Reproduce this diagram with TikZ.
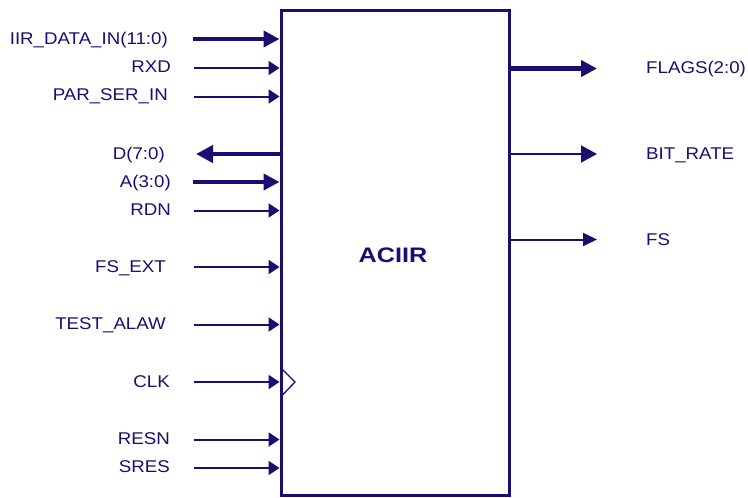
\documentclass[tikz,border=0pt]{standalone}
\usepackage{fontspec}
\setmainfont{Liberation Sans}[FakeStretch=1.1]
\newfontfamily\titlefont{Liberation Sans}[FakeStretch=1.2]
\usetikzlibrary{arrows.meta}
\definecolor{navy}{RGB}{26,14,112}
\begin{document}
\begin{tikzpicture}[x=1pt,y=-1pt,
  every node/.style={text=navy,font=\fontsize{17}{20}\selectfont,inner sep=0pt,text height=12.2pt,text depth=0pt},
  lbl/.style={anchor=east},
  rlbl/.style={anchor=west},
  thinsig/.style={draw=navy,line width=2pt,-{Triangle[length=11pt,width=14pt]}},
  thicksig/.style={draw=navy,line width=4.5pt,-{Triangle[length=16pt,width=16pt]}},
  thinout/.style={draw=navy,line width=2pt,-{Triangle[length=16pt,width=17pt]}},
  fsout/.style={draw=navy,line width=2pt,-{Triangle[length=14pt,width=13pt]}},
]
\useasboundingbox (0,0) rectangle (748,498);
\node[draw=navy,line width=3pt,minimum width=228pt,minimum height=485pt,text height=,text depth=] (box) at (395,252.5) {};
\node[font=\titlefont\fontsize{21}{24}\bfseries\selectfont,text height=15pt] (title) at (393,255) {ACIIR};
% left inputs
\coordinate (iirS) at (193,39);
\coordinate (rxdS) at (194,68);
\coordinate (parS) at (194,96.5);
\coordinate (dE) at (196,154);
\coordinate (aS) at (193,182);
\coordinate (rdnS) at (194,210.5);
\coordinate (fseS) at (194,267);
\coordinate (testS) at (194,324.5);
\coordinate (clkS) at (194,382);
\coordinate (resnS) at (194,439.5);
\coordinate (sresS) at (194,468);
\draw[thicksig] (iirS) -- (box.west |- iirS);
\draw[thinsig] (rxdS) -- (box.west |- rxdS);
\draw[thinsig] (parS) -- (box.west |- parS);
\draw[thicksig,-{Triangle[length=17pt,width=17pt]}] (box.west |- dE) -- (dE);
\draw[thicksig] (aS) -- (box.west |- aS);
\draw[thinsig] (rdnS) -- (box.west |- rdnS);
\draw[thinsig] (fseS) -- (box.west |- fseS);
\draw[thinsig] (testS) -- (box.west |- testS);
\draw[thinsig] (clkS) -- (box.west |- clkS);
\draw[thinsig] (resnS) -- (box.west |- resnS);
\draw[thinsig] (sresS) -- (box.west |- sresS);
% clock marker
\coordinate (ckA) at (281,368);
\coordinate (ckB) at (295,382);
\coordinate (ckC) at (281,396.5);
\draw[navy,line width=1.3pt] (ckA) -- (ckB) -- (ckC);
% left labels
\node[lbl] (liir) at (168,38) {IIR\_DATA\_IN(11:0)};
\node[lbl] (lrxd) at (171,66.5) {RXD};
\node[lbl] (lpar) at (168,94.5) {PAR\_SER\_IN};
\node[lbl] (ld) at (165,153) {D(7:0)};
\node[lbl] (la) at (171,181) {A(3:0)};
\node[lbl] (lrdn) at (171,209) {RDN};
\node[lbl] (lfse) at (166,266) {FS\_EXT};
\node[lbl] (ltest) at (166,323) {TEST\_ALAW};
\node[lbl] (lclk) at (170,381) {CLK};
\node[lbl] (lresn) at (170,438) {RESN};
\node[lbl] (lsres) at (170,466.5) {SRES};
% right outputs
\coordinate (flE) at (597,68.5);
\coordinate (brE) at (597,154);
\coordinate (fsE) at (597,239.5);
\draw[thicksig] (box.east |- flE) -- (flE);
\draw[thinout] (box.east |- brE) -- (brE);
\draw[fsout] (box.east |- fsE) -- (fsE);
\node[rlbl] (rfl) at (646,67.5) {FLAGS(2:0)};
\node[rlbl] (rbr) at (646,153) {BIT\_RATE};
\node[rlbl] (rfs) at (646,239) {FS};
\end{tikzpicture}
\end{document}
